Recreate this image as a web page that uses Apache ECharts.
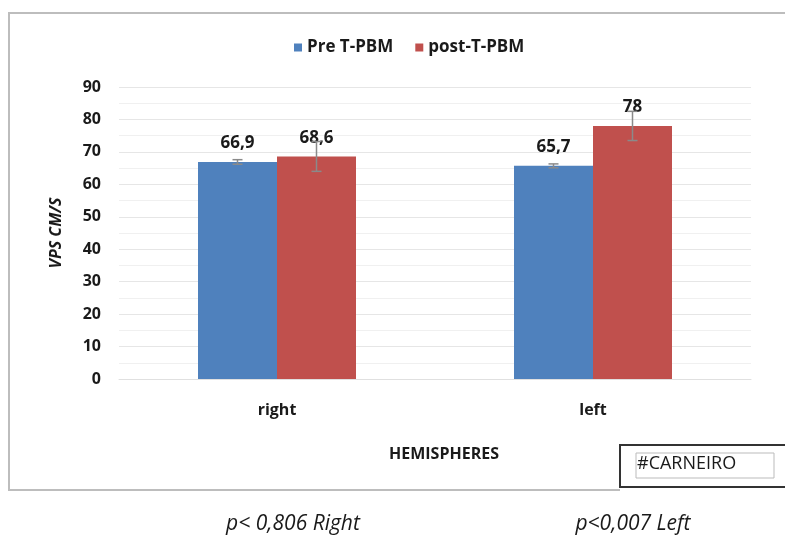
<!DOCTYPE html>
<html><head><meta charset="utf-8">
<script src="https://cdn.jsdelivr.net/npm/echarts@6/dist/echarts.min.js"></script>
<style>html,body{margin:0;padding:0;background:#fff}#c{width:785px;height:535px}</style>
</head><body><div id="c"></div>
<script>
const categories = ['right', 'left'];
const preValues = [66.9, 65.7];
const postValues = [68.6, 78];
const preErrors = [0.7, 0.6];
const postErrors = [4.6, 4.5];
const seriesNames = ['Pre T-PBM', 'post-T-PBM'];
const yTicks = [0, 10, 20, 30, 40, 50, 60, 70, 80, 90];
const pNotes = ['p< 0,806 Right', 'p<0,007 Left'];

const FONT = '"Open Sans", Lato, sans-serif';
const chart = echarts.init(document.getElementById('c'));

function errSeries(values, errs, idx) {
  return {
    type: 'custom', silent: true, z: 10,
    data: values.map((v, i) => [i, v - errs[i], v + errs[i]]),
    renderItem: function (params, api) {
      const ci = api.value(0);
      const lo = api.coord([ci, api.value(1)]);
      const hi = api.coord([ci, api.value(2)]);
      const band = api.size([1, 0])[0];
      const bw = band * 0.25;
      const x = lo[0] + (idx === 0 ? -bw / 2 : bw / 2);
      const cap = 5;
      const st = { stroke: '#8a8a8a', lineWidth: 1.5 };
      return { type: 'group', children: [
        { type: 'line', shape: { x1: x, y1: lo[1], x2: x, y2: hi[1] }, style: st },
        { type: 'line', shape: { x1: x - cap, y1: lo[1], x2: x + cap, y2: lo[1] }, style: st },
        { type: 'line', shape: { x1: x - cap, y1: hi[1], x2: x + cap, y2: hi[1] }, style: st }
      ]};
    }
  };
}

const labelFmt = p => String(p.value).replace('.', ',');

chart.setOption({
  animation: false,
  textStyle: { fontFamily: FONT },
  legend: {
    data: seriesNames, top: 34, left: 289, itemWidth: 8, itemHeight: 8, itemGap: 22,
    icon: 'rect',
    textStyle: { fontFamily: FONT, fontWeight: 'bold', fontSize: 17, color: '#1a1a1a' }
  },
  grid: { left: 119, right: 34, top: 87, bottom: 156 },
  xAxis: {
    type: 'category', data: categories,
    axisLine: { show: true, lineStyle: { color: '#e0e0e0' } },
    axisTick: { show: false },
    axisLabel: { margin: 23, fontFamily: FONT, fontWeight: 'bold', fontSize: 16, color: '#1a1a1a' },
    name: 'HEMISPHERES', nameLocation: 'middle', nameGap: 67,
    nameTextStyle: { fontFamily: FONT, fontWeight: 'bold', fontSize: 16, color: '#1a1a1a', padding: [0, 0, 0, 18] }
  },
  yAxis: {
    type: 'value', min: 0, max: 90, interval: 10,
    axisLine: { show: false }, axisTick: { show: false },
    axisLabel: { margin: 18, fontFamily: FONT, fontWeight: 'bold', fontSize: 16, color: '#1a1a1a',
      formatter: v => yTicks.includes(v) ? String(v) : '' },
    splitLine: { lineStyle: { color: '#e6e6e6' } },
    minorTick: { show: false, splitNumber: 2 },
    minorSplitLine: { show: true, lineStyle: { color: '#f0f0f0' } },
    name: 'VPS CM/S', nameLocation: 'middle', nameGap: 55, nameRotate: 90,
    nameTextStyle: { fontFamily: FONT, fontWeight: 'bold', fontStyle: 'italic', fontSize: 16, color: '#1a1a1a' }
  },
  series: [
    { name: seriesNames[0], type: 'bar', data: preValues, barWidth: '25%', barGap: '0%',
      itemStyle: { color: '#4F81BD' },
      label: { show: true, position: 'top', distance: 10, formatter: labelFmt,
        fontFamily: FONT, fontWeight: 'bold', fontSize: 17, color: '#1a1a1a' } },
    { name: seriesNames[1], type: 'bar', data: postValues, barWidth: '25%', barGap: '0%',
      itemStyle: { color: '#C0504D' },
      label: { show: true, position: 'top', distance: 10, formatter: labelFmt,
        fontFamily: FONT, fontWeight: 'bold', fontSize: 17, color: '#1a1a1a' } },
    errSeries(preValues, preErrors, 0),
    errSeries(postValues, postErrors, 1)
  ],
  graphic: [
    { type: 'polyline', shape: { points: [[786, 13], [9, 13], [9, 490], [620, 490]] },
      style: { stroke: '#bdbdbd', lineWidth: 2, fill: null } },
    { type: 'rect', shape: { x: 620, y: 445, width: 170, height: 42 },
      style: { stroke: '#333', lineWidth: 2, fill: '#fff' } },
    { type: 'rect', shape: { x: 636, y: 453, width: 138, height: 25 },
      style: { stroke: '#bbb', lineWidth: 1, fill: '#fff' } },
    { type: 'text', left: 637, top: 455,
      style: { text: '#CARNEIRO', fontFamily: FONT, fontSize: 18, fill: '#1a1a1a' } },
    { type: 'text', x: 293, y: 524, style: { text: pNotes[0], fontFamily: FONT, fontStyle: 'italic',
      fontSize: 21, fill: '#1a1a1a', align: 'center', verticalAlign: 'middle' } },
    { type: 'text', x: 633, y: 524, style: { text: pNotes[1], fontFamily: FONT, fontStyle: 'italic',
      fontSize: 21, fill: '#1a1a1a', align: 'center', verticalAlign: 'middle' } }
  ]
});
</script></body></html>
